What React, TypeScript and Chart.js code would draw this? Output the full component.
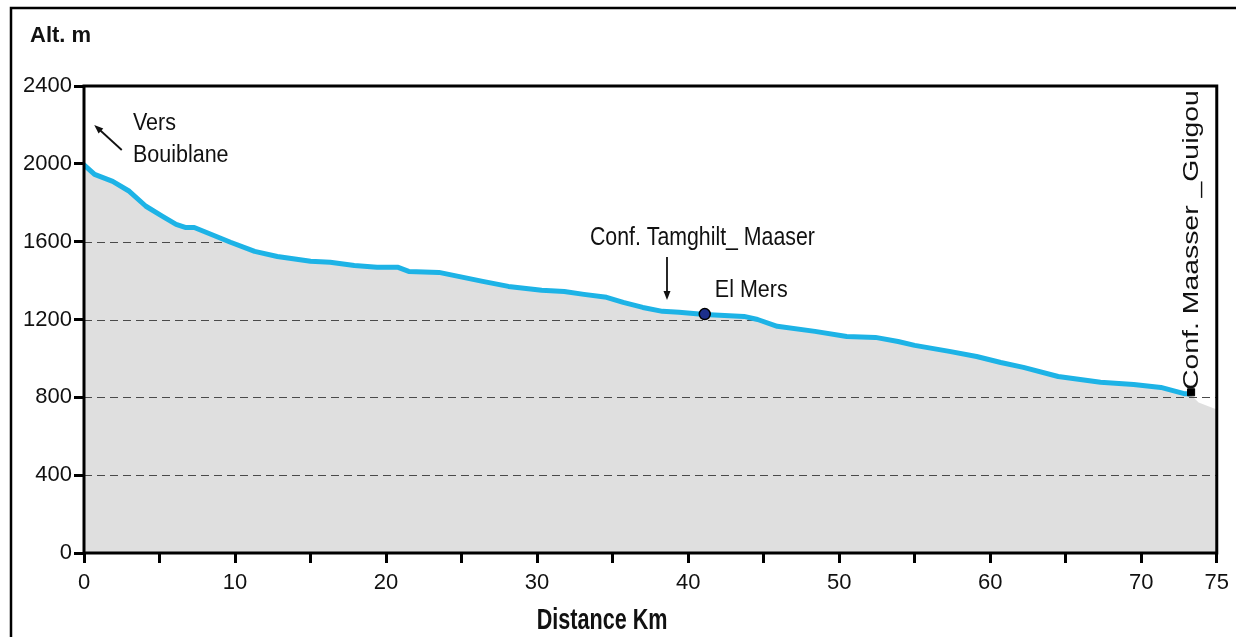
import React, { useEffect, useRef } from "react";
import { Chart, registerables } from "chart.js";
Chart.register(...registerables);

// Longitudinal profile of the river (distance in km, altitude in m)
const distanceKm = [0, 0.7, 1.9, 3.0, 4.1, 5.2, 6.1, 6.7, 7.3, 8.4, 9.7, 11.3, 12.8, 15.0, 16.3, 17.9, 19.4, 20.8, 21.5, 23.5, 26.4, 28.1, 30.3, 31.8, 33.1, 34.6, 35.7, 37.0, 38.3, 39.4, 41.1, 43.7, 44.6, 45.9, 48.4, 50.5, 52.4, 53.9, 55.0, 57.3, 59.1, 60.7, 62.2, 64.5, 67.3, 69.5, 71.3, 72.9, 73.2];
const altitudeM = [1995, 1946, 1910, 1859, 1782, 1730, 1689, 1673, 1673, 1638, 1597, 1550, 1524, 1499, 1494, 1478, 1468, 1468, 1447, 1442, 1396, 1370, 1350, 1344, 1329, 1314, 1288, 1262, 1242, 1237, 1226, 1216, 1200, 1165, 1139, 1113, 1108, 1087, 1067, 1036, 1010, 979, 954, 907, 877, 866, 851, 818, 818];
// terrain beyond the confluence
const groundExtraKm = [73.8, 75];
const groundExtraM = [774, 738];
// point markers
const elMersKm = [41.1];
const elMersM = [1228];
const confluenceKm = [73.3];
const confluenceM = [826];
// axes
const xTickLabels = [0, 10, 20, 30, 40, 50, 60, 70, 75];
const yMax = 2400;
const yStep = 400;
const xMax = 75;
const xStep = 5;

const FONT = "'Liberation Sans', Arial, sans-serif";

function drawText(ctx: CanvasRenderingContext2D, text: string, x: number, y: number, o: any) {
  ctx.save();
  ctx.translate(x, y);
  if (o.rotate) ctx.rotate(o.rotate);
  ctx.scale(o.sx ?? 1, o.sy ?? 1);
  ctx.font = `${o.bold ? "bold " : ""}${o.size}px ${FONT}`;
  ctx.fillStyle = "#111";
  ctx.textAlign = o.align ?? "left";
  ctx.textBaseline = "alphabetic";
  ctx.fillText(text, 0, 0);
  ctx.restore();
}

function drawArrow(ctx: CanvasRenderingContext2D, x1: number, y1: number, x2: number, y2: number) {
  const a = Math.atan2(y2 - y1, x2 - x1);
  const len = 9, hw = 3.5;
  ctx.save();
  ctx.strokeStyle = "#111";
  ctx.fillStyle = "#111";
  ctx.lineWidth = 1.8;
  ctx.beginPath();
  ctx.moveTo(x1, y1);
  ctx.lineTo(x2 - Math.cos(a) * len * 0.8, y2 - Math.sin(a) * len * 0.8);
  ctx.stroke();
  ctx.beginPath();
  ctx.moveTo(x2, y2);
  ctx.lineTo(x2 - Math.cos(a) * len - Math.sin(a) * hw, y2 - Math.sin(a) * len + Math.cos(a) * hw);
  ctx.lineTo(x2 - Math.cos(a) * len + Math.sin(a) * hw, y2 - Math.sin(a) * len - Math.cos(a) * hw);
  ctx.closePath();
  ctx.fill();
  ctx.restore();
}

const profilePlugin = {
  id: "profileDecor",
  afterDatasetDraw(chart: any, args: any) {
    if (args.index !== 1) return;
    const { ctx, chartArea } = chart;
    const yScale = chart.scales.y;
    const pts = chart.getDatasetMeta(0).data;
    ctx.save();
    ctx.beginPath();
    ctx.moveTo(pts[0].x, chartArea.bottom);
    pts.forEach((p: any) => ctx.lineTo(p.x, p.y));
    ctx.lineTo(chartArea.right, pts[pts.length - 1].y);
    ctx.lineTo(chartArea.right, chartArea.bottom);
    ctx.closePath();
    ctx.clip();
    ctx.setLineDash([8, 5]);
    ctx.strokeStyle = "#4a4a4a";
    ctx.lineWidth = 1;
    yScale.ticks.forEach((t: any) => {
      if (t.value <= 0 || t.value >= yMax) return;
      const y = Math.round(yScale.getPixelForValue(t.value)) + 0.5;
      ctx.beginPath();
      ctx.moveTo(chartArea.left, y);
      ctx.lineTo(chartArea.right, y);
      ctx.stroke();
    });
    ctx.restore();
  },
  afterDatasetsDraw(chart: any) {
    const { ctx, chartArea } = chart;
    ctx.save();
    ctx.strokeStyle = "#000";
    ctx.lineWidth = 3;
    ctx.strokeRect(chartArea.left, chartArea.top, chartArea.right - chartArea.left, chartArea.bottom - chartArea.top);
    ctx.restore();
  },
  afterDraw(chart: any) {
    const { ctx } = chart;
    const x = chart.scales.x, y = chart.scales.y;
    const X = (v: number) => x.getPixelForValue(v);
    const Y = (v: number) => y.getPixelForValue(v);
    // outer frame
    ctx.save();
    ctx.strokeStyle = "#000";
    ctx.lineWidth = 2.5;
    ctx.strokeRect(11, 8, 1400, 900);
    ctx.restore();
    // titles
    drawText(ctx, "Alt. m", 30, 42, { size: 22, bold: true });
    drawText(ctx, "Distance Km", X(34.3), 629, { size: 21.6, bold: true, sy: 1.4, align: "center" });
    // annotations
    drawText(ctx, "Vers", X(3.24), Y(2174), { size: 21.5, sy: 1.1 });
    drawText(ctx, "Bouiblane", X(3.24), Y(2009), { size: 21.5, sy: 1.1 });
    drawArrow(ctx, X(2.5), Y(2071), X(0.68), Y(2200));
    drawText(ctx, "Conf. Tamghilt_ Maaser", X(33.5), Y(1583), { size: 21.3, sy: 1.18 });
    drawArrow(ctx, X(38.6), Y(1521), X(38.6), Y(1300));
    drawText(ctx, "El Mers", X(41.77), Y(1318), { size: 21.5, sy: 1.1 });
    drawText(ctx, "Conf. Maasser _Guigou", X(73.74), Y(838), { size: 22, sx: 1.29, rotate: -Math.PI / 2 });
  },
};

export default function App() {
  const ref = useRef<HTMLCanvasElement>(null);
  useEffect(() => {
    const tickFont = { family: FONT, size: 22 };
    const line = distanceKm.map((d, i) => ({ x: d, y: altitudeM[i] }));
    const ground = [...line, ...groundExtraKm.map((d, i) => ({ x: d, y: groundExtraM[i] }))];
    const chart = new Chart(ref.current!, {
      type: "scatter",
      data: {
        datasets: [
          {
            data: line,
            showLine: true,
            borderColor: "#1db3e6",
            borderWidth: 5,
            pointRadius: 0,
            fill: false,
            order: 1,
            borderJoinStyle: "round",
            borderCapStyle: "round",
          } as any,
          {
            data: ground,
            showLine: true,
            borderWidth: 0,
            borderColor: "rgba(0,0,0,0)",
            backgroundColor: "#dfdfdf",
            pointRadius: 0,
            fill: "origin",
            order: 3,
          } as any,
          {
            data: elMersKm.map((d, i) => ({ x: d, y: elMersM[i] })),
            pointRadius: 5.5,
            pointStyle: "circle",
            backgroundColor: "#1c2f8c",
            borderColor: "#000",
            borderWidth: 1.5,
            order: 0,
          },
          {
            data: confluenceKm.map((d, i) => ({ x: d, y: confluenceM[i] })),
            pointRadius: 5,
            pointStyle: "rect",
            backgroundColor: "#000",
            borderColor: "#000",
            borderWidth: 1,
            order: 0,
          },
        ],
      },
      options: {
        animation: false,
        responsive: false,
        layout: { padding: { left: 0, top: 86, right: 19, bottom: 0 } },
        plugins: { legend: { display: false }, tooltip: { enabled: false }, title: { display: false } },
        scales: {
          x: {
            type: "linear",
            min: 0,
            max: xMax,
            afterFit: (s: any) => { s.height = 84; },
            afterBuildTicks: (s: any) => {
              const t = [];
              for (let v = 0; v <= xMax; v += xStep) t.push({ value: v });
              s.ticks = t;
            },
            ticks: {
              autoSkip: false,
              maxRotation: 0,
              padding: 7,
              color: "#111",
              font: tickFont,
              callback: (v: any) => (xTickLabels.includes(Number(v)) ? String(v) : ""),
            },
            grid: { drawOnChartArea: false, drawTicks: true, tickLength: 10, tickWidth: 3, tickColor: "#000" },
            border: { display: false },
          },
          y: {
            type: "linear",
            min: 0,
            max: yMax,
            afterFit: (s: any) => { s.width = 84; },
            ticks: { stepSize: yStep, padding: 2, color: "#111", font: tickFont, callback: (v: any) => String(v) },
            grid: { drawOnChartArea: false, drawTicks: true, tickLength: 10, tickWidth: 3, tickColor: "#000" },
            border: { display: false },
          },
        },
      },
      plugins: [profilePlugin],
    });
    return () => chart.destroy();
  }, []);
  return (
    <div style={{ position: "absolute", left: 0, top: 0, width: 1236, height: 637, background: "#fff" }}>
      <canvas ref={ref} width={1236} height={637} style={{ display: "block" }} />
    </div>
  );
}
